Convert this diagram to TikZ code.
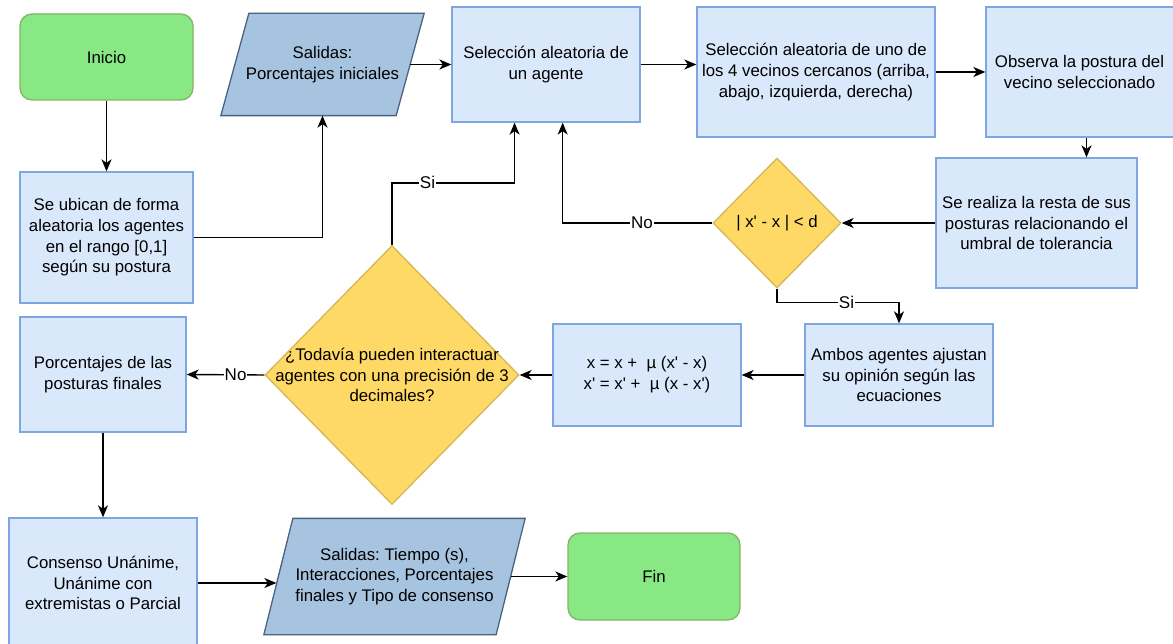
\documentclass[tikz,border=0pt]{standalone}
\usepackage{fontspec}
\setmainfont{Liberation Sans}
\usetikzlibrary{shapes.geometric,arrows.meta,calc,backgrounds}
\definecolor{boxfill}{HTML}{DAE8FC}
\definecolor{boxline}{HTML}{7EA6E0}
\definecolor{grfill}{HTML}{88E884}
\definecolor{grline}{HTML}{82B366}
\definecolor{pafill}{HTML}{A6C4DF}
\definecolor{paline}{HTML}{4A6380}
\definecolor{yefill}{HTML}{FFD966}
\definecolor{yeline}{HTML}{D6B656}
\newcommand{\ap}{\textquotesingle}
\frenchspacing
\tikzset{
  base/.style={inner sep=0pt, align=center, font=\fontsize{16.8}{20.7}\selectfont, line width=1.3pt},
  procbox/.style={base, rectangle, draw=boxline, fill=boxfill},
  termbox/.style={base, rectangle, rounded corners=12pt, draw=grline, fill=grfill},
  iobox/.style={base, rectangle, draw=none},
  ioshape/.style={line width=1.3pt, draw=paline, fill=pafill},
  decbox/.style={base, diamond, draw=yeline, fill=yefill},
  conn/.style={line width=1.4pt, -{Stealth[length=12pt,width=10pt,inset=3.5pt]}},
  lbl/.style={fill=white, inner sep=1pt, font=\fontsize{17}{20}\selectfont}
}
\begin{document}
\begin{tikzpicture}[x=1pt,y=-1pt]
\useasboundingbox (0,0) rectangle (1173,644);
% nodes
\node[termbox, minimum width=173, minimum height=86] (inicio) at (106.5,57) {Inicio};
\node[procbox, minimum width=173, minimum height=131] (ubican) at (106.5,237.5)
  {Se ubican de forma\\aleatoria los agentes\\en el rango [0,1]\\según su postura};
\node[iobox, minimum width=174, minimum height=101] (sal1) at (322.5,64.5)
  {Salidas:\\Porcentajes iniciales};
\node[procbox, minimum width=188, minimum height=115] (sel1) at (546,64.5)
  {Selección aleatoria de\\un agente};
\node[procbox, minimum width=238, minimum height=130] (sel2) at (816,72)
  {Selección aleatoria de uno de\\los 4 vecinos cercanos (arriba,\\abajo, izquierda, derecha)};
\node[procbox, minimum width=201, minimum height=130] (obs) at (1086.5,72)
  {\hspace*{-14pt}Observa la postura del\\\hspace*{-14pt}vecino seleccionado};
\node[procbox, minimum width=201, minimum height=130] (realiza) at (1036.5,223)
  {Se realiza la resta de sus\\posturas relacionando el\\umbral de tolerancia};
\node[decbox, minimum width=128, minimum height=130] (d1) at (777,223)
  {| x\ap{} - x | < d};
\node[procbox, minimum width=188, minimum height=102] (ambos) at (899,375)
  {Ambos agentes ajustan\\su opinión según las\\ecuaciones};
\node[procbox, minimum width=188, minimum height=102] (eq) at (647,375)
  {x = x +\ \ µ (x\ap{} - x)\\x\ap{} = x\ap{} +\ \ µ (x - x\ap)};
\node[decbox, minimum width=254, minimum height=259] (d2) at (392,375) {};
\node[base] (d2t) at (392,375)
  {¿Todavía pueden interactuar\\agentes con una precisión de 3\\decimales?};
\node[procbox, minimum width=166, minimum height=115] (porc) at (103,374.5)
  {Porcentajes de las\\posturas finales};
\node[procbox, minimum width=188, minimum height=130] (cons) at (103,583)
  {Consenso Unánime,\\Unánime con\\extremistas o Parcial};
\node[iobox, minimum width=231, minimum height=115] (sal2) at (394.5,576.5)
  {Salidas: Tiempo (s),\\Interacciones, Porcentajes\\finales y Tipo de consenso};
\node[termbox, minimum width=172, minimum height=87] (fin) at (654,576.5) {Fin};
% parallelogram outlines behind the io nodes
\begin{scope}[on background layer]
  \path[ioshape] ($(sal1.south west)+(-14,0)$) -- ($(sal1.south east)+(-14,0)$)
     -- ($(sal1.north east)+(14,0)$) -- ($(sal1.north west)+(14,0)$) -- cycle;
  \path[ioshape] ($(sal2.south west)+(-14.5,0)$) -- ($(sal2.south east)+(-14.5,0)$)
     -- ($(sal2.north east)+(14.5,0)$) -- ($(sal2.north west)+(14.5,0)$) -- cycle;
\end{scope}
% entry points on sel1
\coordinate (sel1a) at ($(sel1.south west)!0.334!(sel1.south east)$);
\coordinate (sel1b) at ($(sel1.south west)!0.588!(sel1.south east)$);
% connectors
\draw[conn] (inicio.south) -- (ubican.north);
\draw[conn] (ubican.east) -| (sal1.south);
\draw[conn] (sal1.east) -- (sel1.west);
\draw[conn] (sel1.east) -- (sel1.east -| sel2.west);
\draw[conn] (sel2.east) -- (sel2.east -| obs.west);
\draw[conn] (obs.south) -- (obs.south |- realiza.north);
\draw[conn] (realiza.west) -- (d1.east);
\draw[conn] (d1.west) -- node[lbl, pos=0.47]{No} (d1.west -| sel1b) -- (sel1b);
\draw[conn] (d1.south) -- ++(0,14) coordinate (d1s) -- node[lbl, pos=0.57]{Si} (d1s -| ambos.north) -- (ambos.north);
\draw[conn] (ambos.west) -- (eq.east);
\draw[conn] (eq.west) -- (d2.east);
\draw[conn] (d2.west) -- node[lbl, pos=0.37]{No} (porc.east);
\draw[conn] (d2.north) -- ++(0,-62) coordinate (d2n) -- node[lbl, pos=0.29]{Si} (d2n -| sel1a) -- (sel1a);
\draw[conn] (porc.south) -- (cons.north);
\draw[conn] (cons.east) -- ($(cons.east -| sal2.west)+(-2,0)$);
\draw[conn] (sal2.east) -- (fin.west);
\end{tikzpicture}
\end{document}
